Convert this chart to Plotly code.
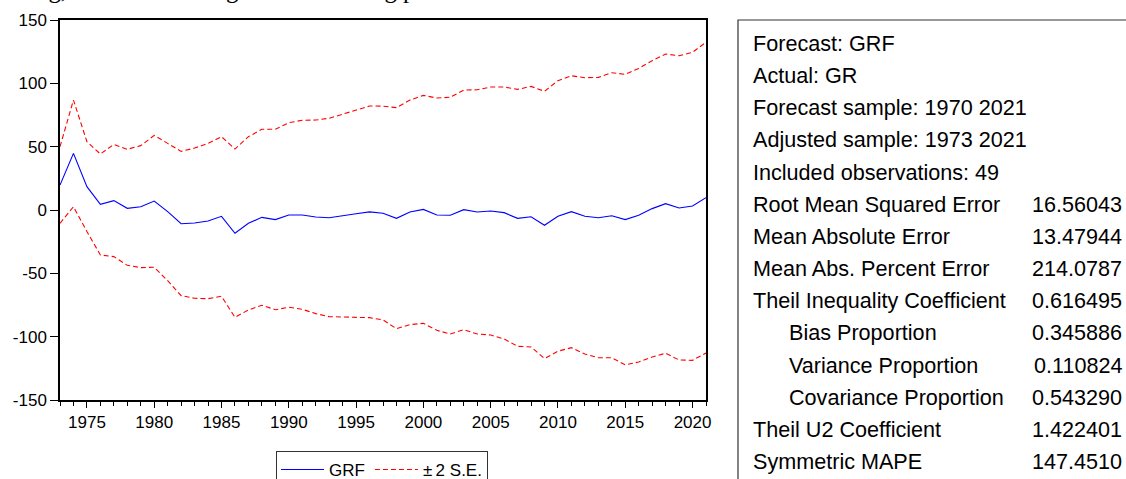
import plotly.graph_objects as go

# Forecast GRF with ±2 standard-error band, 1973–2021
years = list(range(1973, 2022))

grf = [19.7, 44.7, 18.4, 4.5, 7.4, 1.3, 2.6, 7.1, -1.3,
       -10.8, -10.3, -8.7, -5.0, -18.4, -10.5, -5.8, -7.6, -3.9,
       -3.9, -5.5, -6.1, -4.2, -2.9, -1.5, -2.5, -6.6, -1.6,
       0.5, -3.9, -4.2, 0.3, -1.6, -0.8, -2.1, -6.6, -5.3,
       -12.1, -5.0, -1.3, -5.0, -6.1, -4.5, -7.6, -4.2, 1.1,
       5.0, 1.6, 3.2, 9.7]

upper = [50.0, 86.8, 53.9, 44.2, 51.8, 47.9, 50.8, 58.9, 52.6,
         46.3, 48.9, 52.6, 57.9, 48.1, 57.9, 63.7, 63.7, 68.9,
         70.8, 71.0, 72.4, 75.8, 78.9, 82.1, 82.0, 80.8, 86.8,
         90.5, 88.4, 89.0, 94.7, 94.9, 97.1, 97.1, 95.2, 97.6,
         93.7, 102.1, 106.0, 104.4, 104.7, 108.4, 107.1, 111.8, 117.9,
         123.1, 121.8, 124.5, 132.4]

lower = [-10.5, 2.6, -17.0, -35.5, -36.8, -43.7, -45.5, -45.2, -55.8,
         -67.6, -69.7, -70.0, -68.1, -84.7, -78.9, -75.2, -78.7, -76.8,
         -78.4, -81.8, -84.2, -84.4, -84.4, -85.0, -86.8, -93.7, -90.5,
         -89.5, -95.0, -97.9, -94.5, -97.9, -98.7, -101.8, -107.6, -108.1,
         -117.3, -111.5, -108.7, -113.7, -116.6, -116.6, -122.3, -120.0, -116.0,
         -113.1, -118.4, -118.7, -112.9]

y_ticks = [-150, -100, -50, 0, 50, 100, 150]
y_tick_text = ["-150", "-100", "-50", "0", "50", "100", "150"]

# Forecast evaluation statistics
stat_labels = ["Forecast: GRF", "Actual: GR", "Forecast sample: 1970 2021",
               "Adjusted sample: 1973 2021", "Included observations: 49",
               "Root Mean Squared Error", "Mean Absolute Error",
               "Mean Abs. Percent Error", "Theil Inequality Coefficient",
               "Bias Proportion", "Variance Proportion", "Covariance Proportion",
               "Theil U2 Coefficient", "Symmetric MAPE"]
stat_values = ["", "", "", "", "", "16.56043", "13.47944", "214.0787",
               "0.616495", "0.345886", "0.110824", "0.543290", "1.422401",
               "147.4510"]
stat_indent = [False] * 9 + [True, True, True] + [False, False]

W, H = 1126, 479
L, R, T, B = 60, 706, 20, 400   # plot area in pixels


def px_x(p):
    return (p - L) / (R - L)


def px_y(p):
    return (B - p) / (B - T)


FONT = "Liberation Sans, Arial, sans-serif"

fig = go.Figure()
fig.add_trace(go.Scatter(x=years, y=grf, mode="lines", name="GRF",
                         line=dict(color="#0000FF", width=1.1)))
fig.add_trace(go.Scatter(x=years, y=upper, mode="lines", name="±\u20092 S.E.",
                         legendgroup="se",
                         line=dict(color="#FF0000", width=1.1, dash="5px,3px")))
fig.add_trace(go.Scatter(x=years, y=lower, mode="lines", name="±\u20092 S.E.",
                         legendgroup="se", showlegend=False,
                         line=dict(color="#FF0000", width=1.1, dash="5px,3px")))

annotations = []
# caption line running above the figure
annotations.append(dict(
    text="ng, decision-making and forecasting performance evaluation.",
    xref="paper", yref="paper", x=px_x(34), y=px_y(5.5),
    xanchor="left", yanchor="bottom", showarrow=False,
    font=dict(family="Liberation Serif, Times New Roman, serif", size=24.8, color="black")))

row0, step = 43.5, 32.15
for i, (lab, val, ind) in enumerate(zip(stat_labels, stat_values, stat_indent)):
    yc = row0 + i * step
    annotations.append(dict(
        text=lab, xref="paper", yref="paper",
        x=px_x(787 if ind else 751), y=px_y(yc),
        xanchor="left", yanchor="middle", showarrow=False,
        font=dict(family=FONT, size=21.6, color="black")))
    if val:
        annotations.append(dict(
            text=val, xref="paper", yref="paper",
            x=px_x(1124), y=px_y(yc),
            xanchor="right", yanchor="middle", showarrow=False,
            font=dict(family=FONT, size=21.6, color="black")))

shapes = [dict(type="rect", xref="paper", yref="paper",
               x0=px_x(738), x1=px_x(1140), y0=px_y(490), y1=px_y(20),
               line=dict(color="#333333", width=1.2), fillcolor="rgba(0,0,0,0)")]

fig.update_layout(
    width=W, height=H,
    margin=dict(l=L, r=W - R, t=T, b=H - B, pad=0, autoexpand=False),
    paper_bgcolor="white", plot_bgcolor="white",
    font=dict(family=FONT, size=17, color="black"),
    showlegend=True,
    legend=dict(orientation="h", x=px_x(382), xanchor="center",
                y=px_y(451), yanchor="top",
                bordercolor="#333333", borderwidth=1,
                itemwidth=43,
                font=dict(size=17), bgcolor="white"),
    annotations=annotations,
    shapes=shapes,
)

fig.update_xaxes(range=[1973, 2021], tickmode="linear", tick0=1975, dtick=5,
                 ticks="outside", ticklen=6, tickwidth=1, tickcolor="black",
                 minor=dict(dtick=1, tick0=1973, ticks="outside", ticklen=4,
                            tickcolor="black", tickwidth=1),
                 showline=True, linecolor="black", linewidth=1.5, mirror=True,
                 showgrid=False, zeroline=False,
                 tickfont=dict(size=17))
fig.update_yaxes(range=[-150, 150], tickvals=y_ticks, ticktext=y_tick_text,
                 ticks="outside", ticklen=8, tickwidth=1, tickcolor="black",
                 showline=True, linecolor="black", linewidth=1.5, mirror=True,
                 showgrid=False, zeroline=False,
                 tickfont=dict(size=17))

fig.write_html("out.html")
